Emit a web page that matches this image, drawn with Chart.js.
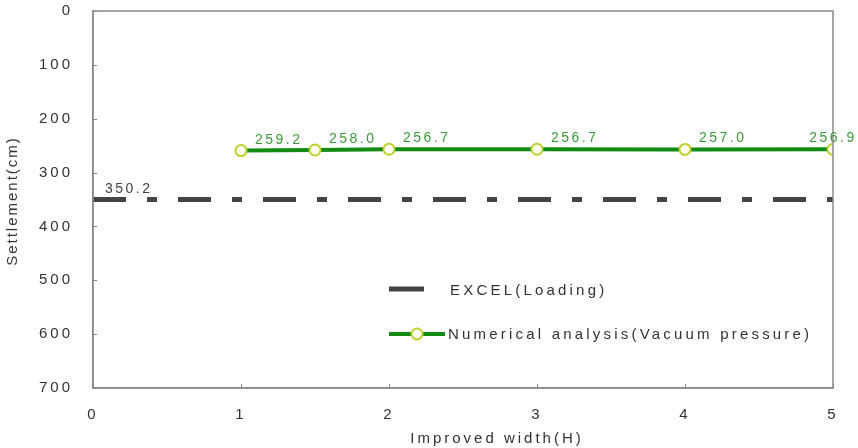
<!DOCTYPE html>
<html>
<head>
<meta charset="utf-8">
<script src="https://cdn.jsdelivr.net/npm/chart.js@4"></script>
<style>
html,body{margin:0;padding:0;background:#fff;}
#wrap{width:858px;height:448px;position:relative;}
</style>
</head>
<body>
<div id="wrap"><canvas id="c" width="858" height="448"></canvas></div>
<script>
// ---- data ----
const widthValues = [1, 1.5, 2, 3, 4, 5];
const numericalValues = [259.2, 258.0, 256.7, 256.7, 257.0, 256.9];
const excelWidths = [0, 5];
const excelValues = [350.2, 350.2];
const excelLabelValue = 350.2;
const xTickValues = [0, 1, 2, 3, 4, 5];
const yTickValues = [0, 100, 200, 300, 400, 500, 600, 700];
const seriesNames = ['EXCEL(Loading)', 'Numerical analysis(Vacuum pressure)'];
const xTitle = 'Improved width(H)';
const yTitle = 'Settlement(cm)';

const FONT = '"Liberation Sans", Arial, sans-serif';
const AXIS_COLOR = '#8a8a8a';
const TEXT_COLOR = '#333333';
const GREEN = '#138a13';
const POINT_BORDER = '#bfd02a';
const DARK = '#444444';

const spacingPlugin = {
  id: 'spacing',
  beforeDraw(chart) { chart.ctx.letterSpacing = '3px'; }
};

const decorPlugin = {
  id: 'decor',
  afterDatasetsDraw(chart) {
    const ctx = chart.ctx;
    const a = chart.chartArea;
    const xs = chart.scales.x, ys = chart.scales.y;
    ctx.save();
    // frame
    ctx.strokeStyle = AXIS_COLOR;
    ctx.lineWidth = 1.5;
    ctx.strokeRect(a.left, a.top, a.right - a.left, a.bottom - a.top);
    // inner ticks
    ctx.lineWidth = 1;
    yTickValues.forEach(v => {
      const y = Math.round(ys.getPixelForValue(v)) + 0.5;
      ctx.beginPath(); ctx.moveTo(a.left, y); ctx.lineTo(a.left + 4, y); ctx.stroke();
    });
    xTickValues.forEach(v => {
      const x = Math.round(xs.getPixelForValue(v)) + 0.5;
      ctx.beginPath(); ctx.moveTo(x, a.bottom); ctx.lineTo(x, a.bottom - 4); ctx.stroke();
    });
    // data labels
    ctx.letterSpacing = '2.5px';
    ctx.font = '14px ' + FONT;
    ctx.textBaseline = 'alphabetic';
    ctx.fillStyle = '#3c9a3c';
    const meta = chart.getDatasetMeta(1);
    meta.data.forEach((pt, i) => {
      const txt = numericalValues[i].toFixed(1);
      const w = ctx.measureText(txt).width;
      let x = pt.x + 14;
      if (x + w > chart.width - 2) { ctx.textAlign = 'center'; x = pt.x; }
      else ctx.textAlign = 'left';
      ctx.fillText(txt, x, pt.y - 7);
    });
    const m0 = chart.getDatasetMeta(0);
    ctx.fillStyle = DARK;
    ctx.textAlign = 'left';
    ctx.fillText(excelLabelValue.toFixed(1), m0.data[0].x + 12, m0.data[0].y - 7);
    // legend (inside plot)
    ctx.letterSpacing = '3.2px';
    ctx.font = '15px ' + FONT;
    ctx.textBaseline = 'middle';
    ctx.fillStyle = TEXT_COLOR;
    const lx = xs.getPixelForValue(2), ly1 = 289, ly2 = 334;
    ctx.strokeStyle = DARK; ctx.lineWidth = 5; ctx.lineCap = 'butt';
    ctx.beginPath(); ctx.moveTo(lx, ly1); ctx.lineTo(lx + 35, ly1); ctx.stroke();
    ctx.fillText(seriesNames[0], lx + 61, ly1 + 2);
    ctx.strokeStyle = GREEN; ctx.lineWidth = 4;
    ctx.beginPath(); ctx.moveTo(lx, ly2); ctx.lineTo(lx + 56, ly2); ctx.stroke();
    ctx.beginPath(); ctx.arc(lx + 28, ly2, 5.5, 0, Math.PI * 2);
    ctx.fillStyle = '#fff'; ctx.fill();
    ctx.strokeStyle = POINT_BORDER; ctx.lineWidth = 2; ctx.stroke();
    ctx.fillStyle = TEXT_COLOR;
    ctx.fillText(seriesNames[1], lx + 59, ly2 + 1);
    // axis titles
    ctx.letterSpacing = '3px';
    ctx.font = '15px ' + FONT;
    ctx.textAlign = 'center';
    ctx.fillText(xTitle, 497, 439);
    ctx.letterSpacing = '2px';
    ctx.save();
    ctx.translate(13, 201);
    ctx.rotate(-Math.PI / 2);
    ctx.fillText(yTitle, 0, 0);
    ctx.restore();
    ctx.restore();
  }
};

new Chart(document.getElementById('c'), {
  type: 'line',
  data: {
    datasets: [
      {
        label: seriesNames[0],
        data: excelWidths.map((x, i) => ({ x, y: excelValues[i] })),
        borderColor: DARK,
        borderWidth: 5,
        borderDash: [33, 21, 10, 21],
        borderCapStyle: 'butt',
        pointRadius: 0,
        fill: false,
        tension: 0
      },
      {
        label: seriesNames[1],
        data: widthValues.map((x, i) => ({ x, y: numericalValues[i] })),
        borderColor: GREEN,
        borderWidth: 4,
        pointRadius: 5.5,
        pointBorderWidth: 2,
        pointBorderColor: POINT_BORDER,
        pointBackgroundColor: '#ffffff',
        fill: false,
        tension: 0
      }
    ]
  },
  options: {
    responsive: false,
    animation: false,
    layout: { padding: { left: 0, right: 25, top: 11, bottom: 0 } },
    plugins: { legend: { display: false }, tooltip: { enabled: false } },
    scales: {
      x: {
        type: 'linear', min: 0, max: 5,
        afterBuildTicks(s) { s.ticks = xTickValues.map(v => ({ value: v })); },
        afterFit(s) { s.height = 60; s.paddingLeft = 0; s.paddingRight = 0; },
        grid: { display: false, drawTicks: false },
        border: { display: true, color: AXIS_COLOR, width: 1.5 },
        ticks: { padding: 18, color: TEXT_COLOR, font: { family: FONT, size: 15 } }
      },
      y: {
        type: 'linear', reverse: true, min: 0, max: 700,
        afterBuildTicks(s) { s.ticks = yTickValues.map(v => ({ value: v })); },
        afterFit(s) { s.width = 93; s.paddingTop = 0; s.paddingBottom = 0; },
        grid: { display: false, drawTicks: false },
        border: { display: true, color: AXIS_COLOR, width: 1.5 },
        ticks: { padding: 20, color: TEXT_COLOR, font: { family: FONT, size: 15 } }
      }
    }
  },
  plugins: [spacingPlugin, decorPlugin]
});
</script>
</body>
</html>
